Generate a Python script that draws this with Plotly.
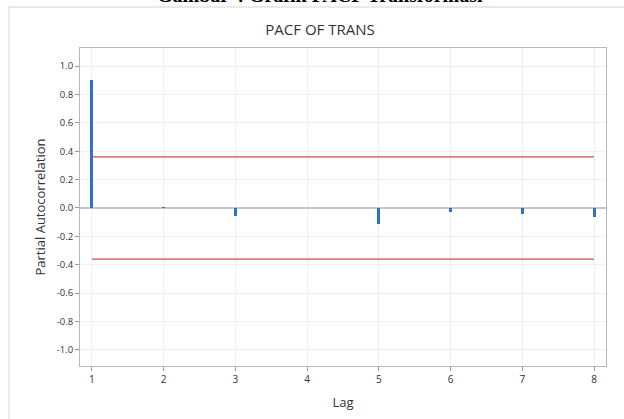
import plotly.graph_objects as go

lags = [1, 2, 3, 4, 5, 6, 7, 8]
pacf = [0.90, 0.004, -0.054, 0.0, -0.115, -0.025, -0.042, -0.062]
upper_limit = 0.36
lower_limit = -0.36
y_ticks = [1.0, 0.8, 0.6, 0.4, 0.2, 0.0, -0.2, -0.4, -0.6, -0.8, -1.0]
y_tick_text = ["1.0", "0.8", "0.6", "0.4", "0.2", "0.0", "-0.2", "-0.4", "-0.6", "-0.8", "-1.0"]

FONT = "Open Sans"
fig = go.Figure()

fig.add_trace(go.Scatter(x=[lags[0], lags[-1]], y=[upper_limit, upper_limit], mode="lines",
                         line=dict(color="#c8514e", width=1.2), showlegend=False, hoverinfo="skip"))
fig.add_trace(go.Scatter(x=[lags[0], lags[-1]], y=[lower_limit, lower_limit], mode="lines",
                         line=dict(color="#c8514e", width=1.2), showlegend=False, hoverinfo="skip"))
fig.add_trace(go.Bar(x=lags, y=pacf, width=0.042, marker=dict(color="#2f72bd", line=dict(width=0)),
                     showlegend=False))

# outer frame of the graph window
fig.add_shape(type="rect", xref="paper", yref="paper",
              x0=(9 - 80) / 526, x1=1.2, y0=-0.3, y1=(366 - 7) / 318,
              line=dict(color="#d4d4d4", width=1), fillcolor="rgba(0,0,0,0)", layer="below")

# caption of the source document, mostly cut off at the top edge
fig.add_annotation(text="<b>Gambar 4 Grafik PACF Transformasi</b>", xref="paper", yref="paper",
                   x=(320 - 80) / 526, y=(366 - 8) / 318, xanchor="center", yanchor="bottom",
                   showarrow=False, font=dict(family="Liberation Serif", size=20, color="#000000"))

fig.update_layout(
    width=624, height=419,
    margin=dict(l=80, r=18, t=48, b=53),
    paper_bgcolor="white", plot_bgcolor="white",
    title=dict(text="PACF OF TRANS", x=320 / 624, xanchor="center",
               y=1 - 30 / 419, yanchor="middle",
               font=dict(family=FONT, size=15, color="#333333")),
    font=dict(family=FONT, color="#333333"),
    bargap=0,
)
fig.update_xaxes(range=[0.833, 8.167], tickvals=lags, ticktext=[str(v) for v in lags],
                 showgrid=True, gridcolor="#f0f0f0", gridwidth=1,
                 showline=True, linecolor="#b8b8b8", linewidth=1, mirror=True,
                 ticks="outside", ticklen=4, tickcolor="#9a9a9a",
                 tickfont=dict(family=FONT, size=10, color="#333333"),
                 title=dict(text="Lag", font=dict(family=FONT, size=13, color="#333333"), standoff=12),
                 zeroline=False)
fig.update_yaxes(range=[-1.113, 1.127], tickvals=y_ticks, ticktext=y_tick_text,
                 showgrid=True, gridcolor="#f0f0f0", gridwidth=1,
                 showline=True, linecolor="#b8b8b8", linewidth=1, mirror=True,
                 ticks="outside", ticklen=4, tickcolor="#9a9a9a",
                 tickfont=dict(family=FONT, size=9.5, color="#333333"),
                 title=dict(text="Partial Autocorrelation", font=dict(family=FONT, size=13, color="#333333"), standoff=8),
                 zeroline=True, zerolinecolor="#c4c4c4", zerolinewidth=1.5)

fig.write_html("out.html")
